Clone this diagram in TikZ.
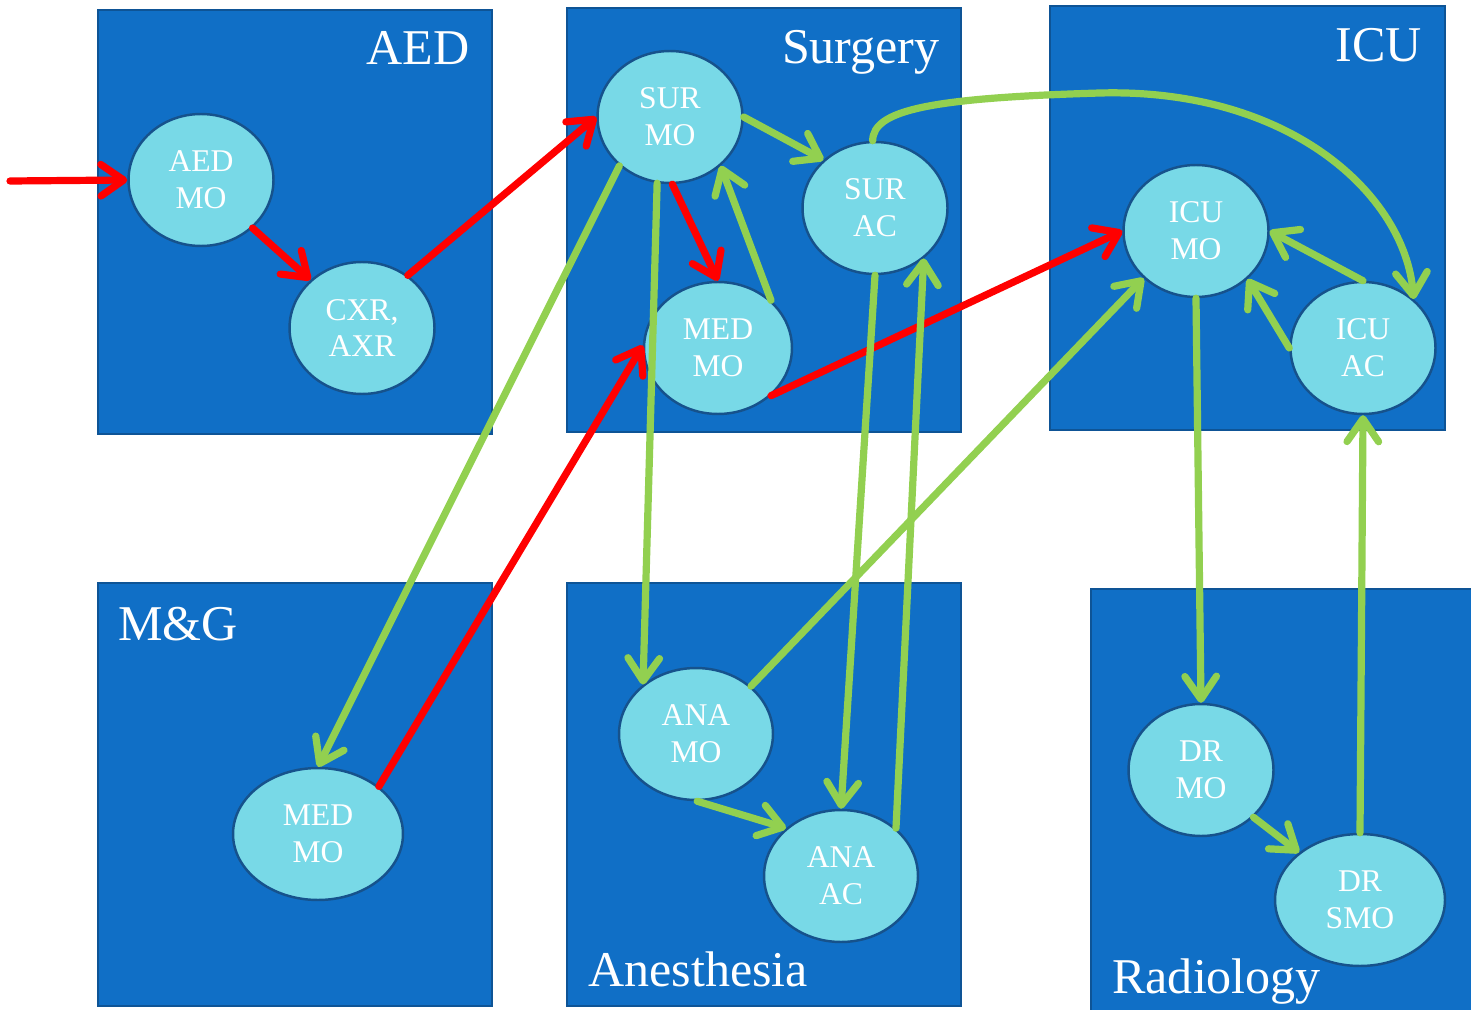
\documentclass[tikz,border=0pt]{standalone}
\usepackage{fontspec}
\setmainfont{Liberation Serif}
\usetikzlibrary{arrows.meta,shapes.geometric}

\definecolor{deptblue}{RGB}{16,111,198}
\definecolor{deptedge}{RGB}{14,84,150}
\definecolor{staffcyan}{RGB}{120,217,231}
\definecolor{staffedge}{RGB}{22,82,140}
\definecolor{flowred}{RGB}{255,0,0}
\definecolor{flowgreen}{RGB}{146,208,80}

\tikzset{
  dept/.style={fill=deptblue, draw=deptedge, line width=1.2pt},
  deptname/.style={text=white, font=\fontsize{28.5}{31}\selectfont, inner sep=0pt},
  staff/.style={ellipse, fill=staffcyan, draw=staffedge, line width=1.4pt, text=white,
    align=center, font=\fontsize{18}{21}\selectfont, inner sep=0pt,
    minimum width=2.9cm, minimum height=2.64cm},
  flow/.style={line width=4.1pt, line cap=round, -{Straight Barb[length=13pt,width=18pt,round]}},
  redflow/.style={flow, draw=flowred},
  greenflow/.style={flow, draw=flowgreen},
}

\begin{document}
\begin{tikzpicture}[x=0.02cm, y=-0.02cm]
			%%%%% START %%%%%
			\useasboundingbox (0,0) rectangle (1471,1010);
			
			% departments
			\draw[dept] (98, 10) rectangle (492, 434);
			\draw[dept] (567, 8) rectangle (961, 432);
			\draw[dept] (1050, 6) rectangle (1445, 430);
			\draw[dept] (98, 583) rectangle (492, 1006);
			\draw[dept] (567, 583) rectangle (961, 1006);
			\draw[dept] (1091, 589) rectangle (1490, 1030);
			
			\node[deptname, anchor=base east] (aedname) at (470, 65) {AED};
			\node[deptname, anchor=base east] (surname) at (940, 64) {Surgery};
			\node[deptname, anchor=base east] (icuname) at (1422, 62) {ICU};
			\node[deptname, anchor=base west] (mgname) at (118, 640) {M\&G};
			\node[deptname, anchor=base west] (ananame) at (588, 986) {Anesthesia};
			\node[deptname, anchor=base west] (radname) at (1112, 993) {Radiology};
			
			% staff
			\node[staff] (aedmo) at (201, 180) {AED\\MO};
			\node[staff] (cxr) at (362, 328) {CXR,\\AXR};
			\node[staff] (surmo) at (670, 117) {SUR\\MO};
			\node[staff] (surac) at (875, 208) {SUR\\AC};
			\node[staff, minimum width=2.96cm] (medmo) at (718, 348) {MED\\MO};
			\node[staff] (icumo) at (1196, 231) {ICU\\MO};
			\node[staff] (icuac) at (1363, 348) {ICU\\AC};
			\node[staff, minimum width=3.4cm] (mgmed) at (318, 834) {MED\\MO};
			\node[staff, minimum width=3.08cm] (anamo) at (696, 734) {ANA\\MO};
			\node[staff, minimum width=3.08cm] (anaac) at (841, 876) {ANA\\AC};
			\node[staff] (drmo) at (1201, 770) {DR\\MO};
			\node[staff, minimum width=3.4cm] (drsmo) at (1360, 900) {DR\\SMO};
			
			\coordinate (entry) at (10, 181);
			
			% patient path
			\draw[redflow] (entry) -- (aedmo.west);
			\draw[redflow] (aedmo.-43) -- (cxr.137);
			\draw[redflow] (cxr.49) -- (surmo.180);
			\draw[redflow] (surmo.-88) -- (medmo.90);
			\draw[redflow] (medmo.-42) -- (icumo.180);
			\draw[redflow] (mgmed.38) -- (medmo.178);
			
			% other calls
			\draw[greenflow] (surmo.0) -- (surac.137);
			\draw[greenflow] (medmo.42) -- (surmo.-44);
			\draw[greenflow] (surmo.-136) -- (mgmed.90);
			\draw[greenflow] (surmo.-101) -- (anamo.137);
			\draw[greenflow] (surac.-90) -- (anaac.90);
			\draw[greenflow] (anaac.41) -- (surac.-46);
			\draw[greenflow] (surac.92) .. controls (873, 110) and (930, 98) .. (1100, 93)
				.. controls (1290, 88) and (1405, 195) .. (icuac.44);
			\draw[greenflow] (anamo.41) -- (icumo.-138);
			\draw[greenflow] (icuac.90) -- (icumo.0);
			\draw[greenflow] (icuac.180) -- (icumo.-43);
			\draw[greenflow] (icumo.-90) -- (drmo.90);
			\draw[greenflow] (drmo.-42) -- (drsmo.142);
			\draw[greenflow] (drsmo.90) -- (icuac.-90);
			\draw[greenflow] (anamo.-89) -- (anaac.139);
			
			%%%%% END %%%%%
\end{tikzpicture}
\end{document}
